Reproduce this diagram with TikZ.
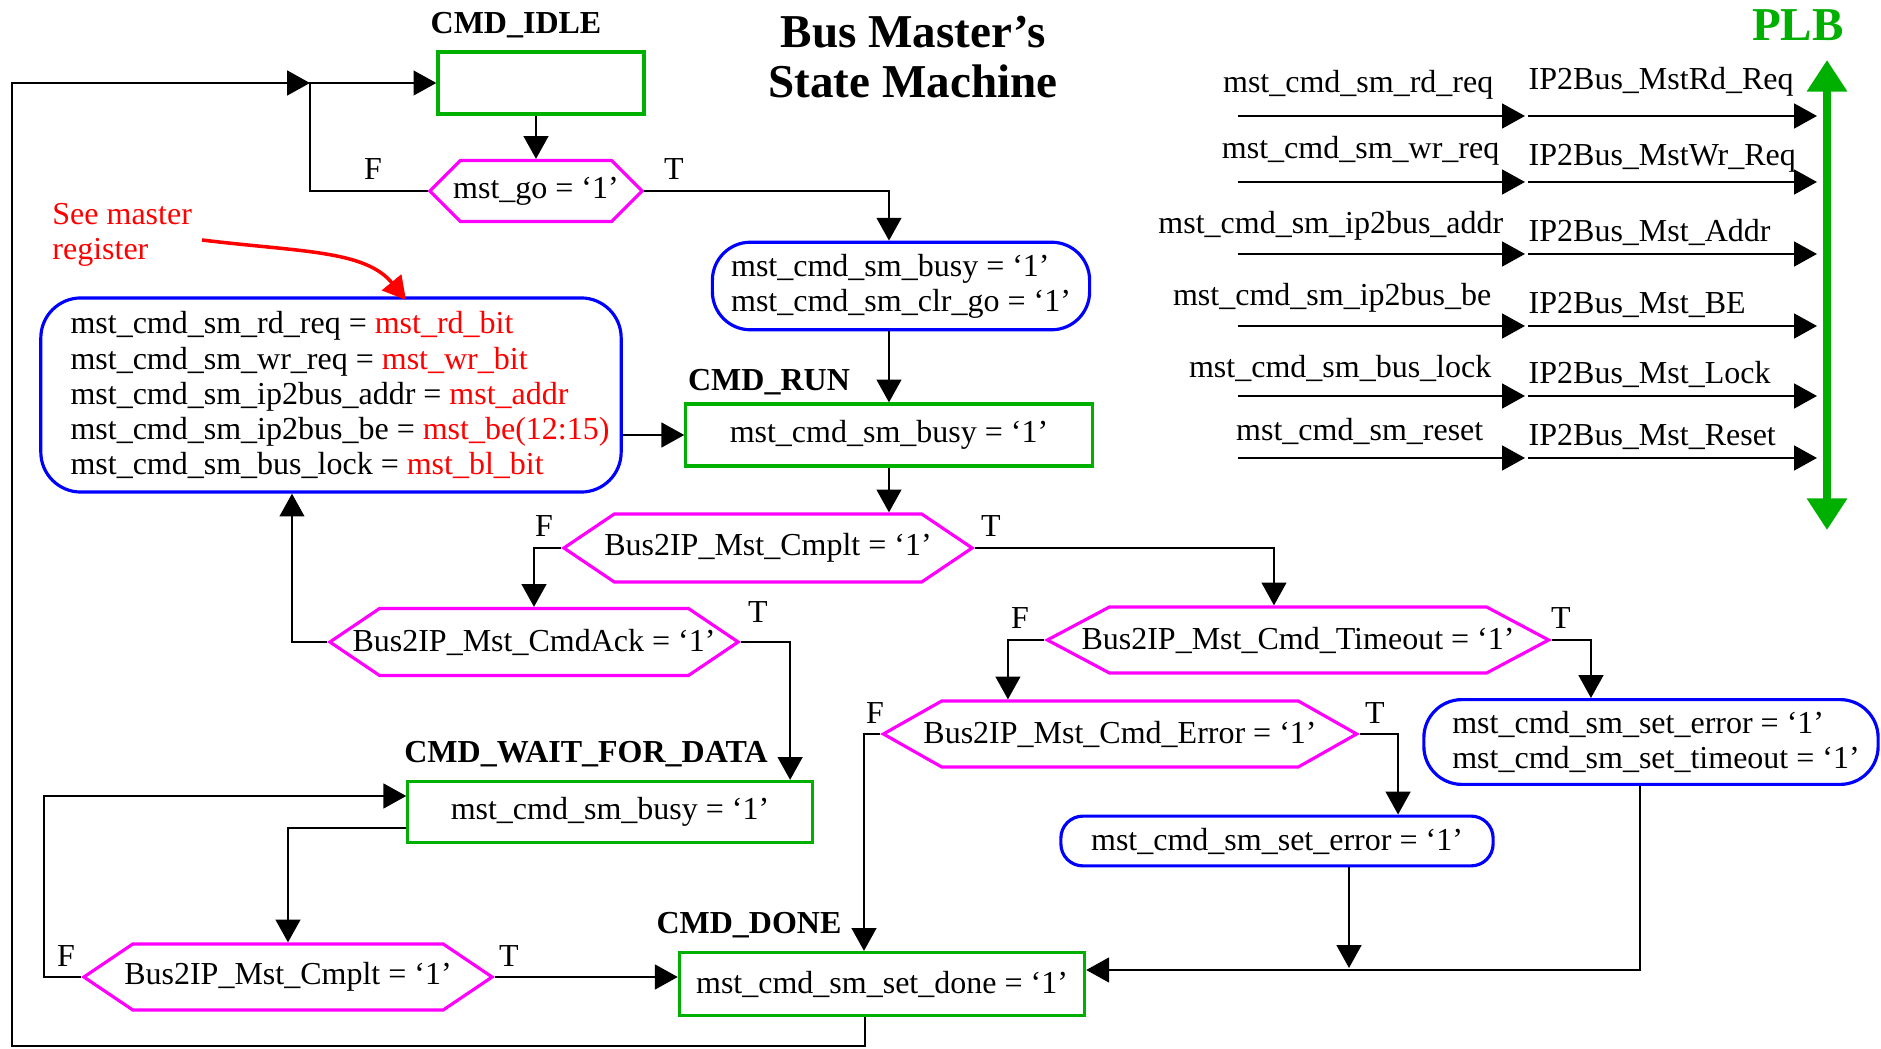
\documentclass[tikz,border=0pt]{standalone}
\usepackage{fontspec}
\setmainfont{Liberation Serif}
\usetikzlibrary{arrows.meta,shapes.symbols}
\definecolor{smgreen}{RGB}{0,176,0}
\definecolor{smmag}{RGB}{255,0,255}
\definecolor{smblue}{RGB}{0,0,255}
\definecolor{smred}{RGB}{255,0,0}

\begin{document}
\begin{tikzpicture}[x=0.01cm,y=-0.01cm,
  every node/.style={font=\fontsize{9.1pt}{9.96pt}\selectfont},
  flow/.style={line width=.75pt,-{Triangle[length=6.5pt,width=7pt]}},
  state/.style={draw=smgreen,line width=.9pt,minimum height=.62cm},
  act/.style={draw=smblue,line width=.9pt,rounded corners=.38cm,align=left},
  test/.style={draw=smmag,line width=.9pt,signal,signal to=east and west,
    signal pointer angle=68,minimum height=.66cm,inner xsep=-.3cm},
  stname/.style={font=\fontsize{9.1pt}{9.96pt}\selectfont\bfseries}]
  \useasboundingbox (0,0) rectangle (1881,1049);

  \node[font=\fontsize{13.4pt}{14.2pt}\selectfont\bfseries,align=center] at (913,57) (title) {Bus Master’s\\State Machine};
  \node[font=\fontsize{13.4pt}{14.2pt}\selectfont\bfseries,text=smgreen] at (1798,25) (plb) {PLB};

  \node[stname] at (516,25) (idlelbl) {CMD\_IDLE};
  \node[state,minimum width=2.06cm] at (541,83) (idle) {};
  \node[test,signal pointer angle=90,minimum height=.61cm,minimum width=2.12cm] at (536,191) (go) {mst\_go = ‘1’};
  \node at (373,169) (goF) {F};
  \node at (674,169) (goT) {T};

  \node[act,minimum width=3.77cm,minimum height=.81cm] at (901,286) (busyclr) {mst\_cmd\_sm\_busy = ‘1’\\mst\_cmd\_sm\_clr\_go = ‘1’};
  \node[stname] at (769,382) (runlbl) {CMD\_RUN};
  \node[state,minimum width=4.06cm] at (889,435) (run) {mst\_cmd\_sm\_busy = ‘1’};

  \node[act,rounded corners=.4cm,minimum width=5.78cm,minimum height=1.94cm] at (331,395) (reg) {\hspace*{.18cm}mst\_cmd\_sm\_rd\_req = \textcolor{smred}{mst\_rd\_bit}\\
    \hspace*{.18cm}mst\_cmd\_sm\_wr\_req = \textcolor{smred}{mst\_wr\_bit}\\
    \hspace*{.18cm}mst\_cmd\_sm\_ip2bus\_addr = \textcolor{smred}{mst\_addr}\\
    \hspace*{.18cm}mst\_cmd\_sm\_ip2bus\_be = \textcolor{smred}{mst\_be(12:15)}\\
    \hspace*{.18cm}mst\_cmd\_sm\_bus\_lock = \textcolor{smred}{mst\_bl\_bit}};
  \node[text=smred,align=left,anchor=west] at (40,235) (see) {See master\\register};
  \coordinate (seetail) at (202,240);
  \coordinate (seetip) at (406,300);

  \node[test,minimum width=4.08cm,minimum height=.68cm] at (768,548) (cmplt1) {Bus2IP\_Mst\_Cmplt = ‘1’};
  \node at (544,526) (cmplt1F) {F};
  \node at (991,526) (cmplt1T) {T};
  \node[test,minimum width=4.08cm,minimum height=.67cm] at (534,642) (cmdack) {Bus2IP\_Mst\_CmdAck = ‘1’};
  \node at (758,612) (cmdackT) {T};
  \node[test,signal pointer angle=56,minimum width=5.01cm] at (1298,640) (timeout) {Bus2IP\_Mst\_Cmd\_Timeout = ‘1’};
  \node at (1020,618) (timeoutF) {F};
  \node at (1561,618) (timeoutT) {T};
  \node[test,signal pointer angle=59,minimum width=4.73cm] at (1120,734) (error) {Bus2IP\_Mst\_Cmd\_Error = ‘1’};
  \node at (875,713) (errorF) {F};
  \node at (1375,713) (errorT) {T};
  \node[act,minimum width=4.54cm,minimum height=.84cm] at (1651,742) (both) {\hspace*{.1cm}mst\_cmd\_sm\_set\_error = ‘1’\\\hspace*{.1cm}mst\_cmd\_sm\_set\_timeout = ‘1’};
  \node[act,rounded corners=.22cm,minimum width=4.32cm,minimum height=.49cm] at (1277,841) (seterr) {mst\_cmd\_sm\_set\_error = ‘1’};

  \node[stname] at (586,754) (waitlbl) {CMD\_WAIT\_FOR\_DATA};
  \node[state,minimum width=4.04cm,minimum height=.61cm] at (610,812) (wait) {mst\_cmd\_sm\_busy = ‘1’};
  \node[test,minimum width=4.08cm] at (288,977) (cmplt2) {Bus2IP\_Mst\_Cmplt = ‘1’};
  \node at (66,956) (cmplt2F) {F};
  \node at (509,956) (cmplt2T) {T};
  \node[stname] at (749,925) (donelbl) {CMD\_DONE};
  \node[state,minimum width=4.05cm,minimum height=.63cm] at (882,984) (done) {mst\_cmd\_sm\_set\_done = ‘1’};

  \coordinate (fjoin) at (310,83);
  \coordinate (loopdn) at (865,1046);
  \coordinate (loopup) at (12,83);
  \coordinate (wl) at (44,796);
  \coordinate (mrg) at (1349,968);

  \draw[flow] (go.north |- idle.south) -- (go.north);
  \draw[flow] (go.west) -| (fjoin) -- (idle.west);
  \draw[flow] (loopdn |- done.south) -- (loopdn) -| (loopup) -- (fjoin);
  \draw[flow] (go.east) -| (run.north |- busyclr.north);
  \draw[flow] (run.north |- busyclr.south) -- (run.north);
  \draw[flow] (reg.east |- run.west) -- (run.west);
  \draw[flow,smred,line width=1pt] (seetail) .. controls (300,252) and (365,250) .. (seetip);
  \draw[flow] (run.south) -- (run.south |- cmplt1.north);
  \draw[flow] (cmplt1.west) -| (cmdack.north);
  \draw[flow] (cmplt1.east) -| ([xshift=-.24cm]timeout.north);
  \draw[flow] (cmdack.west) -| ([xshift=-.39cm]reg.south);
  \draw[flow] (cmdack.east) -| ([xshift=1.8cm]wait.north);
  \draw[flow] (cmplt2.west) -| (wl) -- (wl -| wait.west);
  \draw[flow] ([yshift=-.16cm]wait.west) -| (cmplt2.north);
  \draw[flow] (cmplt2.east) -- (cmplt2.east -| done.west);
  \draw[flow] (timeout.west) -| ([xshift=-1.12cm]error.north);
  \draw[flow] (timeout.east) -| ([xshift=-.6cm]both.north);
  \draw[flow] (error.west) -| ([xshift=-.18cm]done.north);
  \draw[flow] (error.east) -| ([xshift=1.21cm]seterr.north);
  \draw[flow] (mrg |- seterr.south) -- (mrg);
  \draw[flow] ([xshift=-.11cm]both.south) |- ([yshift=.14cm]done.east);

  \foreach \i/\y/\lx/\ly/\ry/\src/\dst in {
      1/116/1494/85/82/mst\_cmd\_sm\_rd\_req/IP2Bus\_MstRd\_Req,
      2/182/1500/151/158/mst\_cmd\_sm\_wr\_req/IP2Bus\_MstWr\_Req,
      3/254/1504/226/232/mst\_cmd\_sm\_ip2bus\_addr/IP2Bus\_Mst\_Addr,
      4/326/1492/298/305/mst\_cmd\_sm\_ip2bus\_be/IP2Bus\_Mst\_BE,
      5/396/1492/368/374/mst\_cmd\_sm\_bus\_lock/IP2Bus\_Mst\_Lock,
      6/458/1484/431/437/mst\_cmd\_sm\_reset/IP2Bus\_Mst\_Reset} {
    \node[anchor=east,inner sep=0] at (\lx,\ly) (src\i) {\src};
    \node[anchor=west,inner sep=0] at (1528,\ry) (dst\i) {\dst};
    \coordinate (a\i) at (1238,\y);
    \coordinate (b\i) at (1525,\y);
    \coordinate (c\i) at (1528,\y);
    \coordinate (d\i) at (1817,\y);
    \draw[flow] (a\i) -- (b\i);
    \draw[flow] (c\i) -- (d\i);
  }
  \coordinate (bustop) at (1827,60);
  \coordinate (busbot) at (1827,530);
  \draw[smgreen,line width=2.2pt,{Triangle[length=9pt,width=11pt]}-{Triangle[length=9pt,width=11pt]}] (bustop) -- (busbot);
\end{tikzpicture}
\end{document}
